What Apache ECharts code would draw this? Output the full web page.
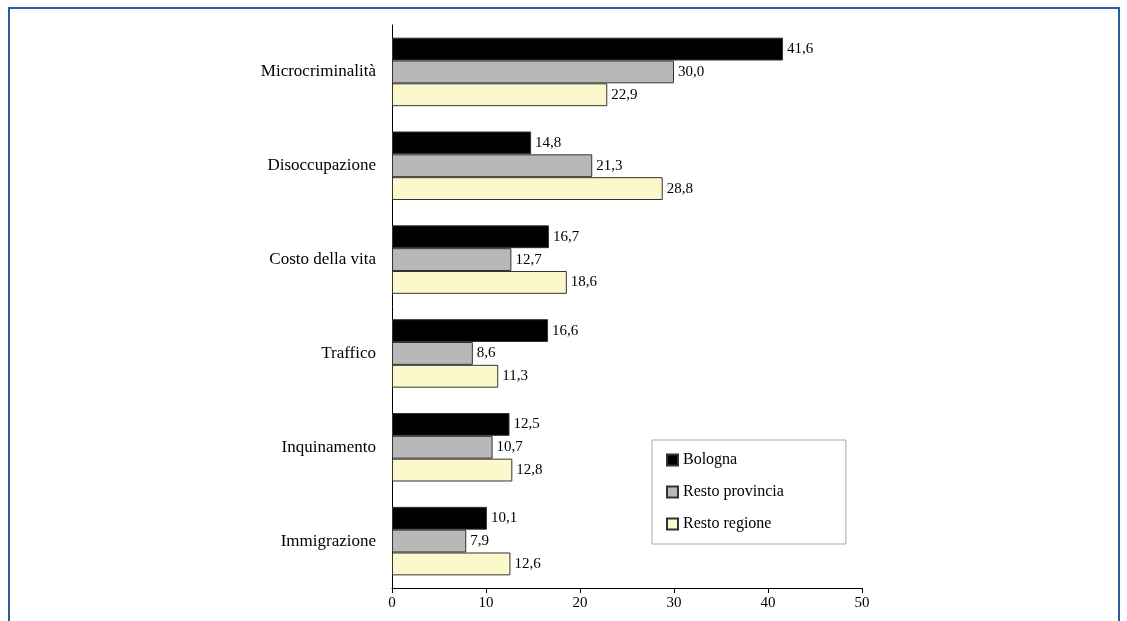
<!DOCTYPE html>
<html><head><meta charset="utf-8">
<script src="https://cdn.jsdelivr.net/npm/echarts@6/dist/echarts.min.js"></script>
<style>html,body{margin:0;padding:0;background:#fff;}
#frame{position:absolute;left:8px;top:7px;width:1108px;height:640px;border:2px solid #2a5b9c;}
#c{position:absolute;left:0;top:0;width:1127px;height:621px;}</style></head>
<body><div id="frame"></div><div id="c"></div>
<script>
const categories=["Microcriminalità","Disoccupazione","Costo della vita","Traffico","Inquinamento","Immigrazione"];
const bologna=[41.6,14.8,16.7,16.6,12.5,10.1];
const restoProvincia=[30.0,21.3,12.7,8.6,10.7,7.9];
const restoRegione=[22.9,28.8,18.6,11.3,12.8,12.6];
const font="Liberation Serif";
function s(name,data,color){return{name,type:'bar',data,barGap:'0%',barCategoryGap:'27%',
itemStyle:{color,borderColor:'#333',borderWidth:1},
label:{show:true,position:'right',distance:4,color:'#000',fontFamily:font,fontSize:15,formatter:p=>p.value.toFixed(1).replace('.',',')}};}
const ch=echarts.init(document.getElementById('c'));
ch.setOption({animation:false,
grid:{left:392,right:265,top:25,bottom:33},
xAxis:{type:'value',min:0,max:50,interval:10,splitLine:{show:false},
axisLine:{show:true,lineStyle:{color:'#000'}},axisTick:{show:true,length:5,lineStyle:{color:'#000'}},
axisLabel:{color:'#000',fontFamily:font,fontSize:15}},
yAxis:{type:'category',inverse:true,data:categories,axisTick:{show:false},
axisLine:{lineStyle:{color:'#000'}},axisLabel:{color:'#000',fontFamily:font,fontSize:17,margin:16}},
legend:{orient:'vertical',left:652,top:440,padding:[12,62,12,14],itemGap:16,
borderColor:'#aaa',borderWidth:1,itemWidth:11,itemHeight:11,icon:'rect',
textStyle:{fontFamily:font,fontSize:16,color:'#000'},data:['Bologna','Resto provincia','Resto regione']},
series:[s('Bologna',bologna,'#000'),s('Resto provincia',restoProvincia,'#b8b8b8'),s('Resto regione',restoRegione,'#fbf8cc')]});
</script></body></html>
